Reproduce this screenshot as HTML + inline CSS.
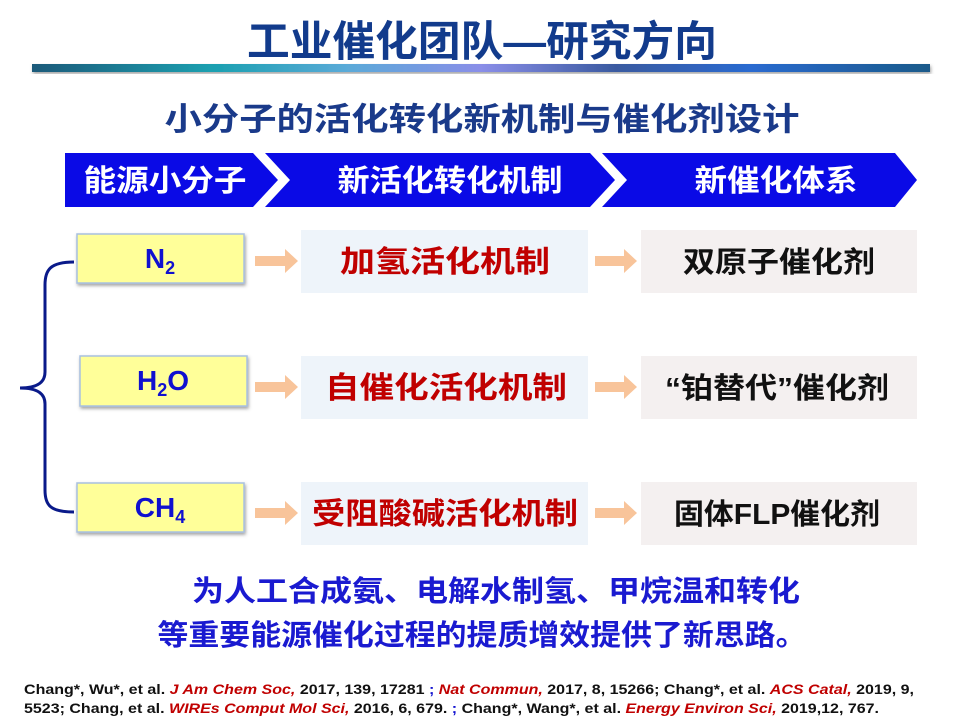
<!DOCTYPE html>
<html><head><meta charset="utf-8"><style>
html,body{margin:0;padding:0;background:#fff;}
svg{display:block;}
text{font-family:"Liberation Sans","Noto Sans CJK SC",sans-serif;font-weight:bold;}
</style></head><body>
<svg width="960" height="720" viewBox="0 0 960 720" xmlns="http://www.w3.org/2000/svg">
<defs>
<linearGradient id="bar" x1="0" x2="1" y1="0" y2="0">
<stop offset="0" stop-color="#1d5a7a"/><stop offset="0.2" stop-color="#1aa0b0"/><stop offset="0.35" stop-color="#5aaad8"/><stop offset="0.5" stop-color="#8a8ee8"/><stop offset="0.65" stop-color="#3a5aa0"/><stop offset="0.8" stop-color="#2a6ad0"/><stop offset="1" stop-color="#1a5a8a"/>
</linearGradient>
<filter id="sh" x="-10%" y="-10%" width="120%" height="130%"><feDropShadow dx="1" dy="2" stdDeviation="1.5" flood-color="#666" flood-opacity="0.6"/></filter>
</defs>
<text x="482" y="56" font-size="42" fill="#123b8c" text-anchor="middle" textLength="470" lengthAdjust="spacingAndGlyphs">工业催化团队—研究方向</text>
<rect x="32" y="64" width="898" height="8" fill="url(#bar)" filter="url(#sh)"/>
<text x="482" y="130" font-size="32" fill="#1a3a8a" text-anchor="middle" textLength="635" lengthAdjust="spacingAndGlyphs">小分子的活化转化新机制与催化剂设计</text>
<g fill="#0a0ae6">
<polygon points="65,153 253,153 278,180 253,207 65,207"/>
<polygon points="265,153 590,153 615,180 590,207 265,207 290,180"/>
<polygon points="602,153 895,153 917,180 895,207 602,207 627,180"/>
</g>
<g font-size="30" fill="#fff" text-anchor="middle">
<text x="165" y="191" textLength="163" lengthAdjust="spacingAndGlyphs">能源小分子</text>
<text x="450" y="191" textLength="225" lengthAdjust="spacingAndGlyphs">新活化转化机制</text>
<text x="776" y="191" textLength="163" lengthAdjust="spacingAndGlyphs">新催化体系</text>
</g>
<path d="M74,262 C50,262 45,270 45,285 L45,372 C45,382 38,388 20,388 C38,388 45,394 45,404 L45,490 C45,505 50,512 74,512" fill="none" stroke="#0a1a8a" stroke-width="3"/>
<g fill="#ffff99" stroke="#a8c0e0" stroke-width="1.5" filter="url(#sh)">
<rect x="77" y="234" width="167" height="49"/>
<rect x="80" y="356" width="167" height="50"/>
<rect x="77" y="483" width="167" height="49"/>
</g>
<g font-size="28" fill="#1010d0" text-anchor="middle">
<text x="160" y="268">N<tspan font-size="18" dy="6">2</tspan></text>
<text x="163" y="390">H<tspan font-size="18" dy="6">2</tspan><tspan dy="-6">O</tspan></text>
<text x="160" y="517">CH<tspan font-size="18" dy="6">4</tspan></text>
</g>
<g fill="#f8c49a">
<polygon points="255,256 285,256 285,249 298,261 285,273 285,266 255,266"/>
<polygon points="255,382 285,382 285,375 298,387 285,399 285,392 255,392"/>
<polygon points="255,508 285,508 285,501 298,513 285,525 285,518 255,518"/>
<polygon points="595,256 624,256 624,249 637,261 624,273 624,266 595,266"/>
<polygon points="595,382 624,382 624,375 637,387 624,399 624,392 595,392"/>
<polygon points="595,508 624,508 624,501 637,513 624,525 624,518 595,518"/>
</g>
<g fill="#eef4fa">
<rect x="301" y="230" width="287" height="63"/>
<rect x="301" y="356" width="287" height="63"/>
<rect x="301" y="482" width="287" height="63"/>
</g>
<g fill="#f4f0f0">
<rect x="641" y="230" width="276" height="63"/>
<rect x="641" y="356" width="276" height="63"/>
<rect x="641" y="482" width="276" height="63"/>
</g>
<g font-size="30" fill="#c00000" text-anchor="middle">
<text x="445" y="272" textLength="210" lengthAdjust="spacingAndGlyphs">加氢活化机制</text>
<text x="446" y="398" textLength="242" lengthAdjust="spacingAndGlyphs">自催化活化机制</text>
<text x="445" y="524" textLength="266" lengthAdjust="spacingAndGlyphs">受阻酸碱活化机制</text>
</g>
<g font-size="29" fill="#111" text-anchor="middle">
<text x="779" y="272" textLength="192" lengthAdjust="spacingAndGlyphs">双原子催化剂</text>
<text x="777" y="398" textLength="224" lengthAdjust="spacingAndGlyphs">“铂替代”催化剂</text>
<text x="777" y="524" textLength="206" lengthAdjust="spacingAndGlyphs">固体FLP催化剂</text>
</g>
<g font-size="29" fill="#1a1ad0" text-anchor="middle">
<text x="496" y="601" textLength="608" lengthAdjust="spacingAndGlyphs">为人工合成氨、电解水制氢、甲烷温和转化</text>
<text x="482" y="645" textLength="649" lengthAdjust="spacingAndGlyphs">等重要能源催化过程的提质增效提供了新思路。</text>
</g>
<g font-size="14" fill="#111" style="font-weight:bold">
<text x="24" y="694" textLength="890" lengthAdjust="spacingAndGlyphs">Chang*, Wu*, et al. <tspan fill="#c00000" font-style="italic">J Am Chem Soc,</tspan> 2017, 139, 17281 <tspan fill="#1010d0">;</tspan> <tspan fill="#c00000" font-style="italic">Nat Commun,</tspan> 2017, 8, 15266; Chang*, et al. <tspan fill="#c00000" font-style="italic">ACS Catal,</tspan> 2019, 9,</text>
<text x="24" y="713" textLength="855" lengthAdjust="spacingAndGlyphs">5523; Chang, et al. <tspan fill="#c00000" font-style="italic">WIREs Comput Mol Sci,</tspan> 2016, 6, 679. <tspan fill="#1010d0">;</tspan> Chang*, Wang*, et al. <tspan fill="#c00000" font-style="italic">Energy Environ Sci,</tspan> 2019,12, 767.</text>
</g>
</svg>
</body></html>
